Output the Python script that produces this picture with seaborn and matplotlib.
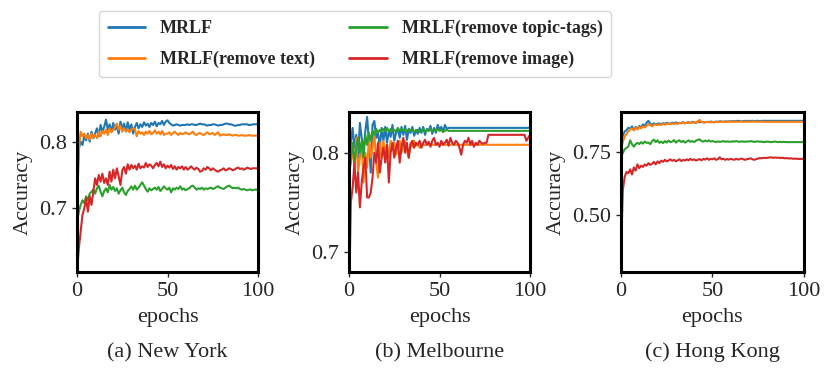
import numpy as np
import pandas as pd
import seaborn as sns
import matplotlib.pyplot as plt

epochs = list(range(101))
series_names = ["MRLF", "MRLF(remove text)", "MRLF(remove topic-tags)", "MRLF(remove image)"]
colors = ["#1f77b4", "#ff7f0e", "#2ca02c", "#d62728"]

# New York
ny_full = [0.700, 0.790, 0.800, 0.795, 0.808, 0.802, 0.812, 0.800, 0.815, 0.805,
           0.812, 0.820, 0.808, 0.825, 0.815, 0.822, 0.833, 0.818, 0.826, 0.815,
           0.828, 0.818, 0.824, 0.812, 0.830, 0.820, 0.827, 0.815, 0.829, 0.818,
           0.826, 0.812, 0.822, 0.828, 0.820, 0.826, 0.822, 0.829, 0.824, 0.827,
           0.822, 0.828, 0.825, 0.830, 0.823, 0.828, 0.826, 0.831, 0.825, 0.830,
           0.832, 0.828, 0.826, 0.824, 0.825, 0.826, 0.825, 0.824, 0.825, 0.825,
           0.825, 0.826, 0.825, 0.826, 0.826, 0.825, 0.825, 0.826, 0.827, 0.826,
           0.826, 0.825, 0.824, 0.825, 0.825, 0.826, 0.826, 0.825, 0.824, 0.825,
           0.825, 0.826, 0.827, 0.827, 0.826, 0.826, 0.825, 0.824, 0.824, 0.825,
           0.825, 0.826, 0.826, 0.826, 0.826, 0.825, 0.825, 0.826, 0.826, 0.826,
           0.826]
ny_text = [0.740, 0.790, 0.815, 0.808, 0.812, 0.805, 0.810, 0.803, 0.812, 0.806,
           0.810, 0.805, 0.815, 0.808, 0.816, 0.812, 0.818, 0.810, 0.820, 0.814,
           0.818, 0.822, 0.827, 0.818, 0.824, 0.815, 0.820, 0.816, 0.818, 0.814,
           0.818, 0.820, 0.818, 0.808, 0.816, 0.812, 0.814, 0.810, 0.815, 0.812,
           0.816, 0.811, 0.813, 0.817, 0.812, 0.815, 0.811, 0.816, 0.810, 0.812,
           0.812, 0.814, 0.810, 0.813, 0.815, 0.812, 0.810, 0.813, 0.811, 0.812,
           0.814, 0.812, 0.811, 0.813, 0.815, 0.811, 0.810, 0.812, 0.813, 0.811,
           0.810, 0.812, 0.814, 0.811, 0.812, 0.813, 0.810, 0.812, 0.814, 0.809,
           0.810, 0.811, 0.810, 0.810, 0.811, 0.810, 0.809, 0.810, 0.810, 0.809,
           0.809, 0.810, 0.809, 0.809, 0.809, 0.810, 0.809, 0.809, 0.809, 0.809,
           0.809]
ny_tags = [0.680, 0.695, 0.705, 0.712, 0.708, 0.718, 0.712, 0.722, 0.725, 0.728,
           0.722, 0.730, 0.734, 0.725, 0.718, 0.726, 0.730, 0.724, 0.735, 0.728,
           0.732, 0.726, 0.730, 0.722, 0.727, 0.731, 0.724, 0.720, 0.726, 0.729,
           0.733, 0.728, 0.734, 0.728, 0.731, 0.735, 0.739, 0.734, 0.729, 0.725,
           0.730, 0.727, 0.729, 0.731, 0.728, 0.732, 0.726, 0.729, 0.733, 0.730,
           0.728, 0.731, 0.724, 0.730, 0.728, 0.731, 0.729, 0.733, 0.728, 0.730,
           0.727, 0.729, 0.730, 0.733, 0.734, 0.731, 0.728, 0.730, 0.729, 0.731,
           0.728, 0.730, 0.729, 0.730, 0.731, 0.729, 0.730, 0.732, 0.733, 0.731,
           0.730, 0.729, 0.731, 0.733, 0.734, 0.732, 0.730, 0.731, 0.730, 0.731,
           0.729, 0.728, 0.729, 0.728, 0.727, 0.728, 0.728, 0.727, 0.728, 0.728,
           0.728]
ny_image = [0.605, 0.640, 0.665, 0.690, 0.700, 0.715, 0.695, 0.718, 0.705, 0.725,
            0.745, 0.735, 0.750, 0.740, 0.752, 0.738, 0.745, 0.735, 0.755, 0.740,
            0.758, 0.745, 0.760, 0.748, 0.735, 0.757, 0.762, 0.752, 0.766, 0.758,
            0.765, 0.760, 0.764, 0.758, 0.767, 0.760, 0.763, 0.761, 0.768, 0.762,
            0.766, 0.764, 0.760, 0.765, 0.768, 0.763, 0.770, 0.762, 0.766, 0.760,
            0.764, 0.761, 0.765, 0.759, 0.763, 0.758, 0.762, 0.760, 0.763, 0.758,
            0.762, 0.758, 0.760, 0.763, 0.760, 0.758, 0.761, 0.759, 0.755, 0.756,
            0.760, 0.758, 0.762, 0.760, 0.757, 0.760, 0.758, 0.756, 0.755, 0.757,
            0.758, 0.760, 0.757, 0.758, 0.760, 0.759, 0.757, 0.758, 0.760, 0.761,
            0.759, 0.760, 0.758, 0.759, 0.761, 0.760, 0.759, 0.760, 0.760, 0.760,
            0.760]

# Melbourne
mel_full = [0.790, 0.810, 0.825, 0.805, 0.818, 0.795, 0.830, 0.815, 0.800, 0.822,
            0.836, 0.810, 0.780, 0.828, 0.832, 0.815, 0.820, 0.805, 0.825, 0.812,
            0.826, 0.810, 0.822, 0.816, 0.828, 0.812, 0.820, 0.824, 0.815, 0.826,
            0.818, 0.827, 0.813, 0.824, 0.820, 0.826, 0.817, 0.823, 0.819, 0.825,
            0.820, 0.826, 0.818, 0.824, 0.822, 0.827, 0.819, 0.825, 0.820, 0.828,
            0.823, 0.826, 0.821, 0.828, 0.824, 0.825, 0.825, 0.825, 0.825, 0.825] + [0.825] * 41
mel_text = [0.780, 0.790, 0.805, 0.785, 0.815, 0.780, 0.795, 0.810, 0.770, 0.800,
            0.785, 0.815, 0.795, 0.805, 0.820, 0.790, 0.775, 0.810, 0.795, 0.812,
            0.800, 0.808, 0.795, 0.812, 0.803, 0.810, 0.798, 0.805, 0.812, 0.800,
            0.808, 0.812, 0.803, 0.795, 0.810, 0.806, 0.812, 0.807, 0.808, 0.805] + [0.808] * 61
mel_tags = [0.775, 0.795, 0.810, 0.790, 0.805, 0.815, 0.800, 0.812, 0.795, 0.818,
            0.808, 0.820, 0.812, 0.822, 0.818, 0.824, 0.820, 0.823, 0.821, 0.824,
            0.822, 0.825, 0.821, 0.824, 0.822, 0.823, 0.821, 0.825, 0.822, 0.824,
            0.822, 0.823, 0.821, 0.824, 0.822, 0.823, 0.821, 0.822, 0.823, 0.821,
            0.822, 0.824, 0.821, 0.823, 0.822, 0.824, 0.821, 0.823, 0.822, 0.824,
            0.822, 0.823, 0.821, 0.822, 0.823, 0.822, 0.822, 0.822, 0.822, 0.822] + [0.822] * 41
mel_image = [0.650, 0.750, 0.765, 0.790, 0.760, 0.780, 0.745, 0.770, 0.785, 0.795,
             0.755, 0.755, 0.760, 0.775, 0.800, 0.790, 0.810, 0.780, 0.795, 0.805,
             0.790, 0.808, 0.770, 0.800, 0.810, 0.795, 0.805, 0.812, 0.790, 0.806,
             0.815, 0.800, 0.810, 0.795, 0.808, 0.812, 0.805, 0.810, 0.808, 0.812,
             0.805, 0.810, 0.813, 0.808, 0.811, 0.806, 0.812, 0.815, 0.808, 0.810,
             0.806, 0.812, 0.808, 0.810, 0.813, 0.807, 0.815, 0.810, 0.808, 0.812,
             0.810, 0.805, 0.798, 0.808, 0.812, 0.810, 0.815, 0.808, 0.812, 0.806,
             0.810, 0.808, 0.812, 0.810, 0.809, 0.810, 0.810, 0.818, 0.818, 0.818,
             0.818, 0.818, 0.818, 0.818, 0.818, 0.818, 0.818, 0.818, 0.818, 0.818,
             0.818, 0.818, 0.818, 0.818, 0.818, 0.818, 0.818, 0.818, 0.812, 0.815,
             0.818]

# Hong Kong
hk_full = [0.780, 0.815, 0.830, 0.835, 0.845, 0.840, 0.850, 0.835, 0.848, 0.840,
           0.852, 0.845, 0.858, 0.850, 0.865, 0.872, 0.860, 0.855, 0.862, 0.858,
           0.860, 0.862, 0.858, 0.863, 0.860, 0.864, 0.862, 0.860, 0.865, 0.862,
           0.866, 0.862, 0.864, 0.863, 0.867, 0.862, 0.865, 0.866, 0.864, 0.868,
           0.866, 0.864, 0.870, 0.866, 0.868, 0.867, 0.866, 0.868, 0.867, 0.869,
           0.868, 0.867, 0.869, 0.868, 0.870, 0.869, 0.868, 0.870, 0.869, 0.870,
           0.870, 0.871, 0.870, 0.871, 0.872, 0.871, 0.870, 0.871, 0.872, 0.871,
           0.872, 0.871, 0.872, 0.871, 0.872, 0.872, 0.871, 0.872, 0.872, 0.872] + [0.872] * 21
hk_text = [0.760, 0.790, 0.810, 0.820, 0.830, 0.838, 0.842, 0.835, 0.845, 0.838,
           0.848, 0.842, 0.850, 0.846, 0.852, 0.858, 0.855, 0.850, 0.856, 0.858,
           0.855, 0.858, 0.856, 0.860, 0.857, 0.860, 0.862, 0.858, 0.862, 0.860,
           0.862, 0.860, 0.864, 0.862, 0.865, 0.862, 0.864, 0.866, 0.863, 0.866,
           0.865, 0.868, 0.866, 0.876, 0.868, 0.865, 0.866, 0.868, 0.867, 0.866,
           0.867, 0.866, 0.868, 0.867, 0.868, 0.869, 0.868, 0.867, 0.868, 0.869,
           0.868, 0.869, 0.868, 0.869, 0.868, 0.869, 0.869, 0.868, 0.869, 0.868,
           0.869, 0.868, 0.869, 0.869, 0.868, 0.869, 0.868, 0.869, 0.868, 0.868] + [0.868] * 21
hk_tags = [0.730, 0.745, 0.760, 0.765, 0.770, 0.795, 0.780, 0.770, 0.780, 0.785,
           0.780, 0.788, 0.782, 0.790, 0.785, 0.786, 0.780, 0.792, 0.798, 0.788,
           0.795, 0.785, 0.790, 0.784, 0.792, 0.786, 0.794, 0.788, 0.790, 0.796,
           0.786, 0.792, 0.795, 0.788, 0.793, 0.786, 0.790, 0.795, 0.789, 0.792,
           0.788, 0.794, 0.797, 0.799, 0.792, 0.790, 0.794, 0.791, 0.795, 0.790,
           0.792, 0.790, 0.788, 0.791, 0.789, 0.790, 0.792, 0.789, 0.791, 0.790,
           0.789, 0.791, 0.790, 0.792, 0.790, 0.789, 0.791, 0.790, 0.789, 0.791,
           0.790, 0.792, 0.790, 0.789, 0.790, 0.791, 0.789, 0.790, 0.788, 0.789,
           0.790, 0.789, 0.788, 0.789, 0.790, 0.789, 0.788, 0.789, 0.788, 0.789] + [0.788] * 11
hk_image = [0.350, 0.600, 0.650, 0.670, 0.665, 0.680, 0.660, 0.688, 0.675, 0.700,
            0.685, 0.695, 0.690, 0.700, 0.695, 0.705, 0.698, 0.702, 0.710, 0.700,
            0.712, 0.705, 0.715, 0.710, 0.718, 0.712, 0.715, 0.720, 0.714, 0.718,
            0.712, 0.716, 0.720, 0.713, 0.718, 0.715, 0.720, 0.716, 0.722, 0.717,
            0.720, 0.715, 0.718, 0.721, 0.716, 0.722, 0.719, 0.724, 0.718, 0.722,
            0.720, 0.724, 0.718, 0.721, 0.728, 0.720, 0.722, 0.718, 0.721, 0.719,
            0.722, 0.720, 0.718, 0.722, 0.719, 0.721, 0.723, 0.720, 0.718, 0.721,
            0.722, 0.724, 0.720, 0.718, 0.721, 0.723, 0.725, 0.724, 0.726, 0.725,
            0.726, 0.727, 0.728, 0.726, 0.727, 0.726, 0.727, 0.725, 0.726, 0.725,
            0.724, 0.725, 0.723, 0.724, 0.722, 0.723, 0.722, 0.722, 0.721, 0.722,
            0.722]

panels = [
    ("(a) New York", [ny_full, ny_text, ny_tags, ny_image], (0.6045, 0.8445), [0.7, 0.8], ["0.7", "0.8"]),
    ("(b) Melbourne", [mel_full, mel_text, mel_tags, mel_image], (0.68, 0.841), [0.7, 0.8], ["0.7", "0.8"]),
    ("(c) Hong Kong", [hk_full, hk_text, hk_tags, hk_image], (0.275, 0.907), [0.5, 0.75], ["0.50", "0.75"]),
]

sns.set_style("ticks")
plt.rcParams['font.family'] = ['Liberation Serif', 'DejaVu Serif']
plt.rcParams['font.size'] = 16

fig = plt.figure(figsize=(8.31, 3.75), dpi=100)
lefts = [0.0927, 0.42, 0.7473]
widths = [0.2178, 0.2178, 0.22]

for i, (title, data, ylim, yticks, ylabels) in enumerate(panels):
    ax = fig.add_axes([lefts[i], 0.2747, widths[i], 0.4267])
    rows = []
    for name, vals in zip(series_names, data):
        for e, v in zip(epochs, vals):
            rows.append({"epoch": e, "acc": v, "model": name})
    df = pd.DataFrame(rows)
    sns.lineplot(data=df, x="epoch", y="acc", hue="model", hue_order=series_names,
                 palette=colors, linewidth=1.5, ax=ax, legend=False)
    ax.set_xlim(0, 100)
    ax.set_ylim(*ylim)
    ax.set_xticks([0, 50, 100])
    ax.set_yticks(yticks)
    ax.set_yticklabels(ylabels)
    ax.tick_params(labelsize=16, length=3.5, width=1, pad=3.5)
    ax.set_xlabel("epochs", fontsize=16, labelpad=5)
    ax.set_ylabel("Accuracy", fontsize=16, labelpad=5)
    for s in ax.spines.values():
        s.set_visible(True)
        s.set_linewidth(2.2)
        s.set_color("black")
    fig.text(lefts[i] + widths[i] / 2, 0.06, title, ha="center", va="center", fontsize=16)

handles = [plt.Line2D([], [], color=c, linewidth=2) for c in colors]
fig.legend([handles[0], handles[1], handles[2], handles[3]],
           [series_names[0], series_names[1], series_names[2], series_names[3]],
           loc="upper center", bbox_to_anchor=(355 / 831, 0.995), ncol=2,
           prop={'weight': 'bold', 'size': 13}, frameon=True, columnspacing=1.9,
           handlelength=2.1, handletextpad=0.8, labelspacing=0.75, borderpad=0.5)

fig.savefig("out.png", dpi=100)
